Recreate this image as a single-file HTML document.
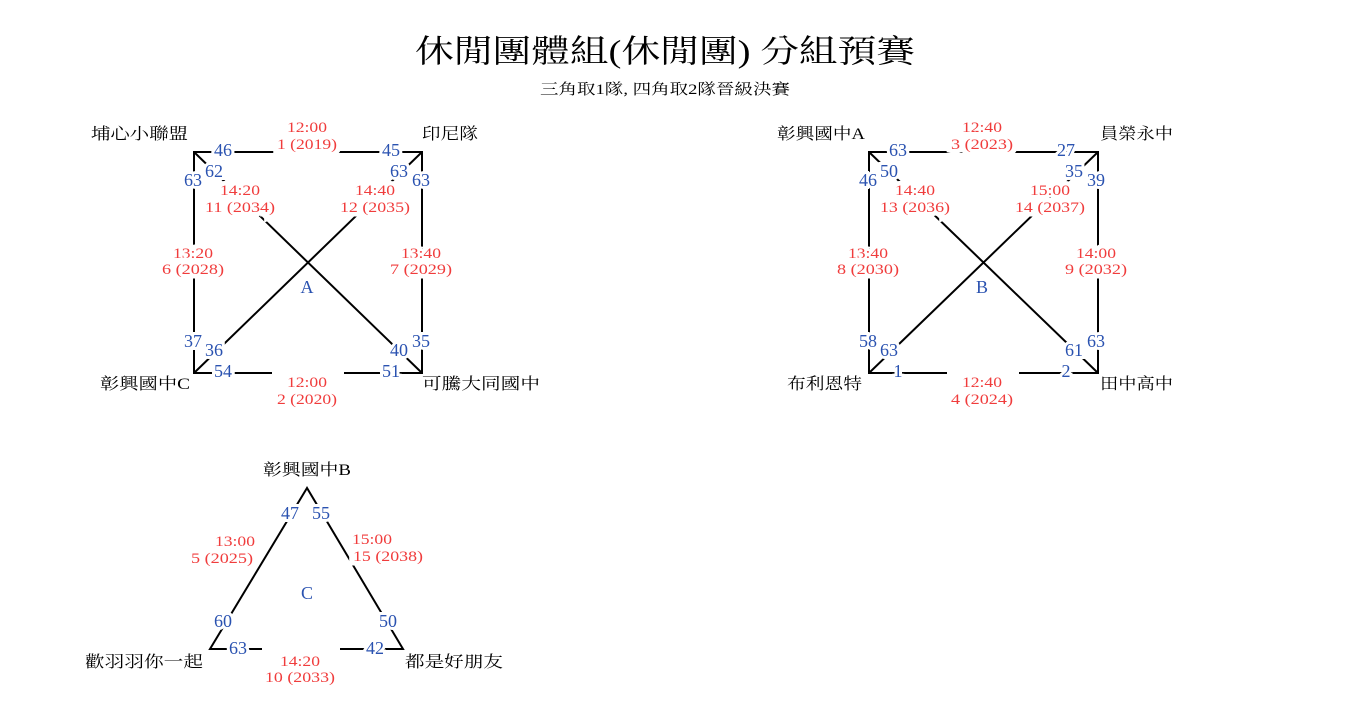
<!DOCTYPE html>
<html><head><meta charset="utf-8"><style>
html,body{margin:0;padding:0;background:#fff;}
svg{display:block;}
text{font-family:"Liberation Serif","Noto Serif CJK TC","Noto Serif CJK SC",serif;}
.k{fill:#000;font-size:16px;}
.b{fill:#2a52b0;font-size:18px;text-anchor:middle;stroke:#fff;stroke-width:6px;paint-order:stroke;}
.r{fill:#f03c3c;font-size:15px;text-anchor:middle;stroke:#fff;stroke-width:9px;paint-order:stroke;}
.l{stroke:#000;stroke-width:2;fill:none;}
</style></head><body>
<svg width="1350" height="720" viewBox="0 0 1350 720">
<text x="665" y="62" style="font-size:32px;text-anchor:middle" textLength="500" lengthAdjust="spacingAndGlyphs">休閒團體組(休閒團) 分組預賽</text>
<text x="665" y="94" style="font-size:15px;text-anchor:middle" textLength="250" lengthAdjust="spacingAndGlyphs">三角取1隊, 四角取2隊晉級決賽</text>

<!-- Group A -->
<g>
<path class="l" d="M194 152H422V373H194Z M194 152L422 373 M422 152L194 373"/>
<rect x="272" y="368" width="72" height="10" fill="#fff"/>
<text class="k" x="91" y="139" textLength="97" lengthAdjust="spacingAndGlyphs">埔心小聯盟</text>
<text class="k" x="422" y="139" textLength="56" lengthAdjust="spacingAndGlyphs">印尼隊</text>
<text class="k" x="100" y="389" textLength="90" lengthAdjust="spacingAndGlyphs">彰興國中C</text>
<text class="k" x="422" y="389" textLength="118" lengthAdjust="spacingAndGlyphs">可騰大同國中</text>
<text class="r" x="307" y="132" textLength="40" lengthAdjust="spacingAndGlyphs">12:00</text><text class="r" x="307" y="149" textLength="60" lengthAdjust="spacingAndGlyphs">1 (2019)</text>
<text class="r" x="240" y="195" textLength="40" lengthAdjust="spacingAndGlyphs">14:20</text><text class="r" x="240" y="212" textLength="70" lengthAdjust="spacingAndGlyphs">11 (2034)</text>
<text class="r" x="375" y="195" textLength="40" lengthAdjust="spacingAndGlyphs">14:40</text><text class="r" x="375" y="212" textLength="70" lengthAdjust="spacingAndGlyphs">12 (2035)</text>
<text class="r" x="193" y="258" textLength="40" lengthAdjust="spacingAndGlyphs">13:20</text><text class="r" x="193" y="274" textLength="62" lengthAdjust="spacingAndGlyphs">6 (2028)</text>
<text class="r" x="421" y="258" textLength="40" lengthAdjust="spacingAndGlyphs">13:40</text><text class="r" x="421" y="274" textLength="62" lengthAdjust="spacingAndGlyphs">7 (2029)</text>
<text class="r" x="307" y="387" textLength="40" lengthAdjust="spacingAndGlyphs">12:00</text><text class="r" x="307" y="404" textLength="60" lengthAdjust="spacingAndGlyphs">2 (2020)</text>
<text class="b" x="223" y="156">46</text><text class="b" x="391" y="156">45</text>
<text class="b" x="214" y="177">62</text><text class="b" x="193" y="186">63</text>
<text class="b" x="399" y="177">63</text><text class="b" x="421" y="186">63</text>
<text class="b" x="307" y="293">A</text>
<text class="b" x="193" y="347">37</text><text class="b" x="214" y="356">36</text>
<text class="b" x="399" y="356">40</text><text class="b" x="421" y="347">35</text>
<text class="b" x="223" y="377">54</text><text class="b" x="391" y="377">51</text>
</g>

<!-- Group B -->
<g>
<path class="l" d="M869 152H1098V373H869Z M869 152L1098 373 M1098 152L869 373"/>
<rect x="947" y="368" width="72" height="10" fill="#fff"/>
<text class="k" x="777" y="139" textLength="88" lengthAdjust="spacingAndGlyphs">彰興國中A</text>
<text class="k" x="1100" y="139" textLength="73" lengthAdjust="spacingAndGlyphs">員榮永中</text>
<text class="k" x="787" y="389" textLength="75" lengthAdjust="spacingAndGlyphs">布利恩特</text>
<text class="k" x="1100" y="389" textLength="73" lengthAdjust="spacingAndGlyphs">田中高中</text>
<text class="r" x="982" y="132" textLength="40" lengthAdjust="spacingAndGlyphs">12:40</text><text class="r" x="982" y="149" textLength="62" lengthAdjust="spacingAndGlyphs">3 (2023)</text>
<text class="r" x="915" y="195" textLength="40" lengthAdjust="spacingAndGlyphs">14:40</text><text class="r" x="915" y="212" textLength="70" lengthAdjust="spacingAndGlyphs">13 (2036)</text>
<text class="r" x="1050" y="195" textLength="40" lengthAdjust="spacingAndGlyphs">15:00</text><text class="r" x="1050" y="212" textLength="70" lengthAdjust="spacingAndGlyphs">14 (2037)</text>
<text class="r" x="868" y="258" textLength="40" lengthAdjust="spacingAndGlyphs">13:40</text><text class="r" x="868" y="274" textLength="62" lengthAdjust="spacingAndGlyphs">8 (2030)</text>
<text class="r" x="1096" y="258" textLength="40" lengthAdjust="spacingAndGlyphs">14:00</text><text class="r" x="1096" y="274" textLength="62" lengthAdjust="spacingAndGlyphs">9 (2032)</text>
<text class="r" x="982" y="387" textLength="40" lengthAdjust="spacingAndGlyphs">12:40</text><text class="r" x="982" y="404" textLength="62" lengthAdjust="spacingAndGlyphs">4 (2024)</text>
<text class="b" x="898" y="156">63</text><text class="b" x="1066" y="156">27</text>
<text class="b" x="889" y="177">50</text><text class="b" x="868" y="186">46</text>
<text class="b" x="1074" y="177">35</text><text class="b" x="1096" y="186">39</text>
<text class="b" x="982" y="293">B</text>
<text class="b" x="868" y="347">58</text><text class="b" x="889" y="356">63</text>
<text class="b" x="1074" y="356">61</text><text class="b" x="1096" y="347">63</text>
<text class="b" x="898" y="377">1</text><text class="b" x="1066" y="377">2</text>
</g>

<!-- Group C -->
<g>
<path class="l" d="M307 488L210 649H403Z"/>
<rect x="262" y="644" width="78" height="10" fill="#fff"/>
<text class="k" x="263" y="475" textLength="88" lengthAdjust="spacingAndGlyphs">彰興國中B</text>
<text class="k" x="85" y="667" textLength="118" lengthAdjust="spacingAndGlyphs">歡羽羽你一起</text>
<text class="k" x="405" y="667" textLength="98" lengthAdjust="spacingAndGlyphs">都是好朋友</text>
<text class="r" x="235" y="546" textLength="40" lengthAdjust="spacingAndGlyphs">13:00</text><text class="r" x="222" y="563" textLength="62" lengthAdjust="spacingAndGlyphs">5 (2025)</text>
<text class="r" x="372" y="544" textLength="40" lengthAdjust="spacingAndGlyphs">15:00</text><text class="r" x="388" y="561" textLength="70" lengthAdjust="spacingAndGlyphs">15 (2038)</text>
<text class="r" x="300" y="666" textLength="40" lengthAdjust="spacingAndGlyphs">14:20</text><text class="r" x="300" y="682" textLength="70" lengthAdjust="spacingAndGlyphs">10 (2033)</text>
<text class="b" x="290" y="519">47</text><text class="b" x="321" y="519">55</text>
<text class="b" x="307" y="599">C</text>
<text class="b" x="223" y="627">60</text><text class="b" x="388" y="627">50</text>
<text class="b" x="238" y="654">63</text><text class="b" x="375" y="654">42</text>
</g>
</svg>
</body></html>
